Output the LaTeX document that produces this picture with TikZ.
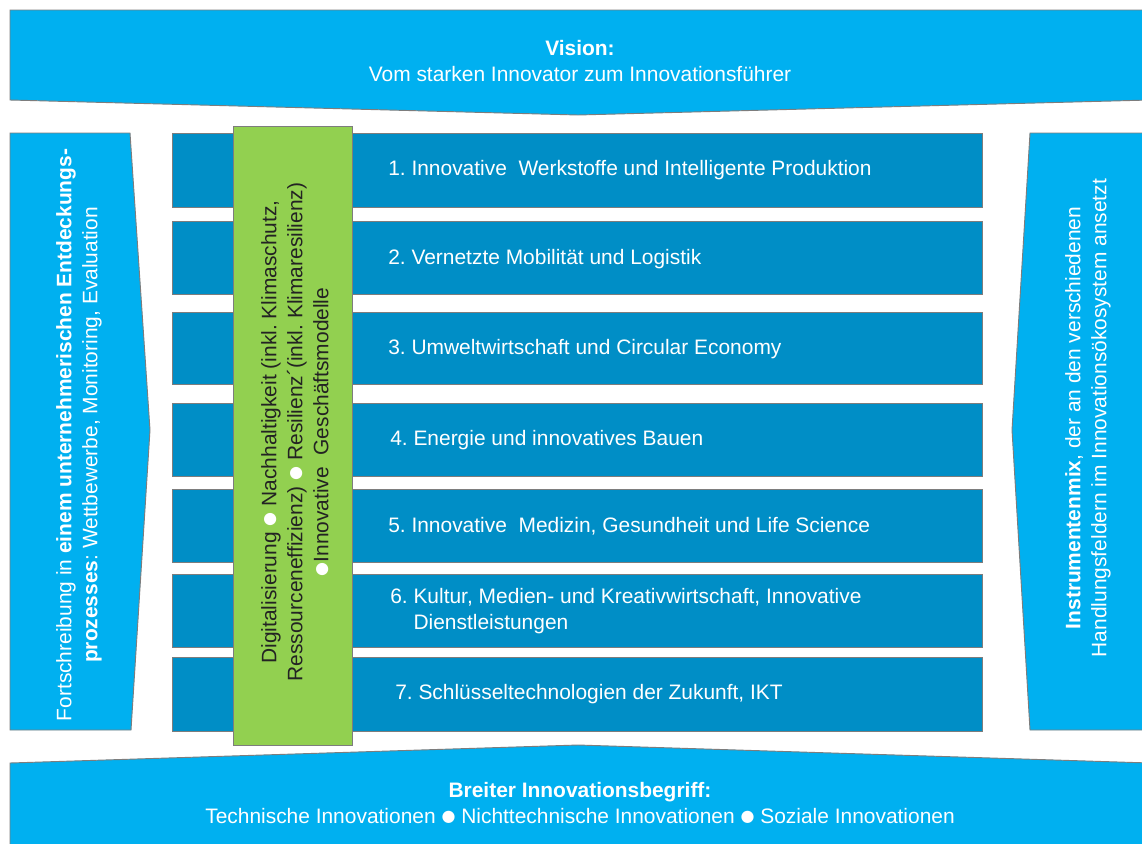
\documentclass[tikz,border=0pt]{standalone}
\usepackage{fontspec}
\setmainfont{Liberation Sans}
\newfontfamily\dejavu{DejaVu Sans}
\definecolor{cyanband}{RGB}{0,176,240}
\definecolor{rowblue}{RGB}{0,142,198}
\definecolor{greenbar}{RGB}{146,208,80}
\definecolor{edgegray}{RGB}{125,125,125}
\definecolor{darktext}{RGB}{35,35,35}
\newcommand{\bulw}{\raisebox{1.6pt}{\dejavu\fontsize{12}{12}\selectfont\textcolor{white}{●}}}
\frenchspacing
\begin{document}
\begin{tikzpicture}[x=0.75pt,y=-0.75pt,
  band/.style={fill=cyanband, draw=edgegray, line width=0.7pt},
  rowbox/.style={fill=rowblue, draw=edgegray, line width=0.5pt},
  greenbox/.style={fill=greenbar, draw=edgegray, line width=0.7pt},
  basetxt/.style={inner sep=0pt, font=\fontsize{15.7}{19.5}\selectfont},
  whitetxt/.style={basetxt, text=white},
  rowtxt/.style={whitetxt, anchor=west, align=left},
  greentxt/.style={basetxt, text=darktext, align=center}]
\useasboundingbox (0,0) rectangle (1142,843);
\clip (0,0) rectangle (1142,843);
\fill[white] (0,0) rectangle (1142,843);
% top banner
\draw[band] (10,10) -- (1150,10) -- (1150,100) -- (578,115) -- (10,100) -- cycle;
% bottom banner
\draw[band] (10,763) -- (578,745) -- (1150,763) -- (1150,850) -- (10,850) -- cycle;
% left arrow
\draw[band] (10,133) -- (130,133) -- (150,430) -- (131,730) -- (10,730) -- cycle;
% right arrow
\draw[band] (1030,133) -- (1150,133) -- (1150,730) -- (1030,730) -- (1012,430) -- cycle;
% rows
\foreach \t/\b in {133/207,221/294,312/384,403/476,489/562,574/647,657/731}
  \draw[rowbox] (172,\t) rectangle (982,\b);
% green bar
\draw[greenbox] (233,126) rectangle (352,745);
% texts
\node[whitetxt, align=center] (vision) at (580,61) {\textbf{Vision:}\\Vom starken Innovator zum Innovationsführer};
\node[whitetxt, align=center] (breit) at (580,803) {\textbf{Breiter Innovationsbegriff:}\\Technische Innovationen \bulw{} Nichttechnische Innovationen \bulw{} Soziale Innovationen};
\node[whitetxt, align=center, rotate=90] (lefttxt) at (79,435) {Fortschreibung in \textbf{einem unternehmerischen Entdeckungs-}\\\textbf{prozesses}: Wettbewerbe, Monitoring, Evaluation};
\node[whitetxt, align=center, rotate=90] (righttxt) at (1088,418) {\textbf{Instrumentenmix}, der an den verschiedenen\\Handlungsfeldern im Innovationsökosystem ansetzt};
\node[greentxt, rotate=90] (greentext) at (295,432) {Digitalisierung \bulw{} Nachhaltigkeit (inkl. Klimaschutz,\\Ressourceneffizienz) \bulw{} Resilienz´(inkl. Klimaresilienz)\\\bulw Innovative\ \ Geschäftsmodelle};
\node[rowtxt] (r1) at (388,170) {1. Innovative\ \ Werkstoffe und Intelligente Produktion};
\node[rowtxt] (r2) at (388,259) {2. Vernetzte Mobilität und Logistik};
\node[rowtxt] (r3) at (388,349) {3. Umweltwirtschaft und Circular Economy};
\node[rowtxt] (r4) at (390,440) {4. Energie und innovatives Bauen};
\node[rowtxt] (r5) at (388,526) {5. Innovative\ \ Medizin, Gesundheit und Life Science};
\node[rowtxt] (r6) at (390,611) {\begin{tabular}{@{}l@{\ }l@{}}6. & Kultur, Medien- und Kreativwirtschaft, Innovative\\ & Dienstleistungen\end{tabular}};
\node[rowtxt] (r7) at (395,694) {7. Schlüsseltechnologien der Zukunft, IKT};
\end{tikzpicture}
\end{document}
